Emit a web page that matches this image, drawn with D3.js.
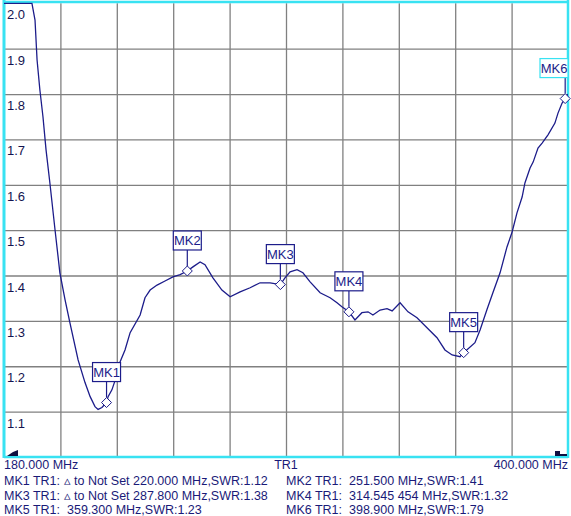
<!DOCTYPE html>
<html>
<head>
<meta charset="utf-8">
<script src="https://cdn.jsdelivr.net/npm/d3@7/dist/d3.min.js"></script>
<style>
html,body{margin:0;padding:0;background:#fff;}
svg{display:block;}
text{font-family:"Liberation Sans",Arial,sans-serif;}
</style>
</head>
<body>
<svg id="chart" width="571" height="516"></svg>
<script>
// ---- data ----
const freqMHz = [180.0,190.9,192.1,192.9,194.0,195.2,196.4,197.9,199.9,201.8,203.8,205.7,208.9,211.6,213.6,215.5,216.7,218.2,220.0,220.6,222.1,223.7,225.3,227.2,229.2,233.1,235.0,237.0,239.7,242.8,245.9,248.7,251.5,253.7,256.5,258.4,261.5,265.0,268.2,272.1,276.0,279.9,283.8,287.8,289.6,291.6,294.3,296.6,299.4,303.3,307.2,309.9,311.8,314.545,316.9,319.6,322.0,323.9,326.7,329.4,331.4,334.5,337.6,341.1,345.0,348.9,352.0,354.8,357.9,359.3,363.7,365.7,368.4,370.7,373.5,376.2,378.2,380.1,382.1,383.2,385.2,386.4,388.3,389.9,392.2,394.9,396.1,397.7,398.9,400.0];
const swrValues = [2.0,2.0,1.963,1.875,1.809,1.750,1.677,1.604,1.501,1.406,1.347,1.296,1.214,1.164,1.133,1.111,1.105,1.109,1.12,1.133,1.148,1.175,1.210,1.236,1.274,1.313,1.351,1.368,1.379,1.388,1.397,1.402,1.41,1.419,1.430,1.424,1.395,1.368,1.353,1.364,1.373,1.384,1.384,1.38,1.395,1.408,1.413,1.406,1.386,1.362,1.351,1.340,1.331,1.32,1.302,1.318,1.320,1.313,1.324,1.327,1.322,1.340,1.320,1.307,1.285,1.263,1.236,1.225,1.221,1.23,1.252,1.280,1.325,1.362,1.406,1.463,1.496,1.538,1.573,1.604,1.637,1.650,1.681,1.692,1.710,1.736,1.758,1.780,1.79,1.80];
const markerNames = ["MK1","MK2","MK3","MK4","MK5","MK6"];
const markerFreqs = [220.0,251.5,287.8,314.545454,359.3,398.9];
const markerSwr = [1.12,1.41,1.38,1.32,1.23,1.79];
const yTickValues = [2.0,1.9,1.8,1.7,1.6,1.5,1.4,1.3,1.2,1.1];
const xGridValues = [202,224,246,268,290,312,334,356,378];
const startLabel = "180.000 MHz";
const centerLabel = "TR1";
const stopLabel = "400.000 MHz";
const infoLeft = ["MK1 TR1: \u25B5 to Not Set 220.000 MHz,SWR:1.12","MK3 TR1: \u25B5 to Not Set 287.800 MHz,SWR:1.38","MK5 TR1:  359.300 MHz,SWR:1.23"];
const infoRight = ["MK2 TR1:  251.500 MHz,SWR:1.41","MK4 TR1:  314.545 454 MHz,SWR:1.32","MK6 TR1:  398.900 MHz,SWR:1.79"];

// ---- layout ----
const svg = d3.select("#chart");
const L = 4, R = 568, T = 3.3, B = 457;
const x = d3.scaleLinear().domain([180,400]).range([L,R]);
const y = d3.scaleLinear().domain([1,2]).range([B,T]);
const navy = "#1c1c8a";
const cyan = "#38e2f2";
const grid = "#808080";

svg.append("rect").attr("width",571).attr("height",516).attr("fill","#fff");

// grid
const gAxisX = d3.axisBottom(x).tickValues(xGridValues).tickSize(-(B-T)).tickFormat("");
const gx = svg.append("g").attr("transform",`translate(0,${B})`).call(gAxisX);
gx.select(".domain").remove();
gx.selectAll("line").attr("stroke",grid).attr("stroke-width",1.3);
const gAxisY = d3.axisLeft(y).tickValues(yTickValues.slice(1)).tickSize(-(R-L)).tickFormat("");
const gy = svg.append("g").attr("transform",`translate(${L},0)`).call(gAxisY);
gy.select(".domain").remove();
gy.selectAll("line").attr("stroke",grid).attr("stroke-width",1.3);

// y labels
svg.append("g").selectAll("text").data(yTickValues).join("text")
  .attr("x",7).attr("y",d=>y(d)+16)
  .attr("font-size",13).attr("fill","#141450")
  .text(d=>d.toFixed(1));

// frame
svg.append("line").attr("x1",L-1).attr("x2",R+1).attr("y1",2).attr("y2",2).attr("stroke",cyan).attr("stroke-width",2.5);
svg.append("line").attr("x1",L).attr("x2",L).attr("y1",0).attr("y2",B+1).attr("stroke",cyan).attr("stroke-width",3);
svg.append("line").attr("x1",R).attr("x2",R).attr("y1",0).attr("y2",B+1).attr("stroke",cyan).attr("stroke-width",2.5);
svg.append("line").attr("x1",L).attr("x2",R).attr("y1",B).attr("y2",B).attr("stroke",cyan).attr("stroke-width",2.5);

// clip
svg.append("clipPath").attr("id","clip").append("rect").attr("x",L).attr("y",T-1).attr("width",R-L).attr("height",B-T+1);

// trace
const pts = freqMHz.map((f,i)=>[f,swrValues[i]]);
svg.append("path").attr("clip-path","url(#clip)")
  .attr("d",d3.line().x(d=>x(d[0])).y(d=>y(d[1]))(pts))
  .attr("fill","none").attr("stroke",navy).attr("stroke-width",1.3);

// markers
const mk = markerNames.map((n,i)=>({n,f:markerFreqs[i],s:markerSwr[i],active:i===markerNames.length-1}));
const mg = svg.append("g").selectAll("g").data(mk).join("g");
mg.each(function(d){
  const g = d3.select(this);
  const px = x(d.f), py = y(d.s);
  const bw = 28, bh = 19;
  let bx = px - bw/2;
  if (bx + bw > R) bx = R - bw;
  const by = py - 21 - bh;
  const col = d.active ? cyan : navy;
  g.append("line").attr("x1",px).attr("x2",px).attr("y1",by+bh).attr("y2",py-5).attr("stroke",navy).attr("stroke-width",1.2);
  g.append("rect").attr("x",bx).attr("y",by).attr("width",bw).attr("height",bh).attr("fill","#fff").attr("stroke",col).attr("stroke-width",1.2);
  g.append("text").attr("x",bx+bw/2).attr("y",by+bh-4.5).attr("text-anchor","middle").attr("font-size",13).attr("fill",navy).text(d.n);
  g.append("path").attr("d",`M${px},${py-5}L${px+5},${py}L${px},${py+5}L${px-5},${py}Z`).attr("fill","#fff").attr("stroke",navy).attr("stroke-width",1);
});

// reference indicators
svg.append("path").attr("d","M7,456L18,456L18,450L13,452Z").attr("fill","#101040");
svg.append("path").attr("d","M555,456L567,456L567,454L560,454L560,451L555,451Z").attr("fill","#101040");

// bottom text
const txt = (s,xx,yy,anchor)=>svg.append("text").attr("x",xx).attr("y",yy).attr("text-anchor",anchor||"start").attr("font-size",12.5).attr("fill","#1a1a78").attr("xml:space","preserve").style("white-space","pre").text(s);
txt(startLabel,4,468.5);
txt(centerLabel,286,468.5,"middle");
txt(stopLabel,568,468.5,"end");
const rowsY = [485,499.5,513.5];
infoLeft.forEach((s,i)=>txt(s,4,rowsY[i]));
infoRight.forEach((s,i)=>txt(s,286,rowsY[i]));
</script>
</body>
</html>
